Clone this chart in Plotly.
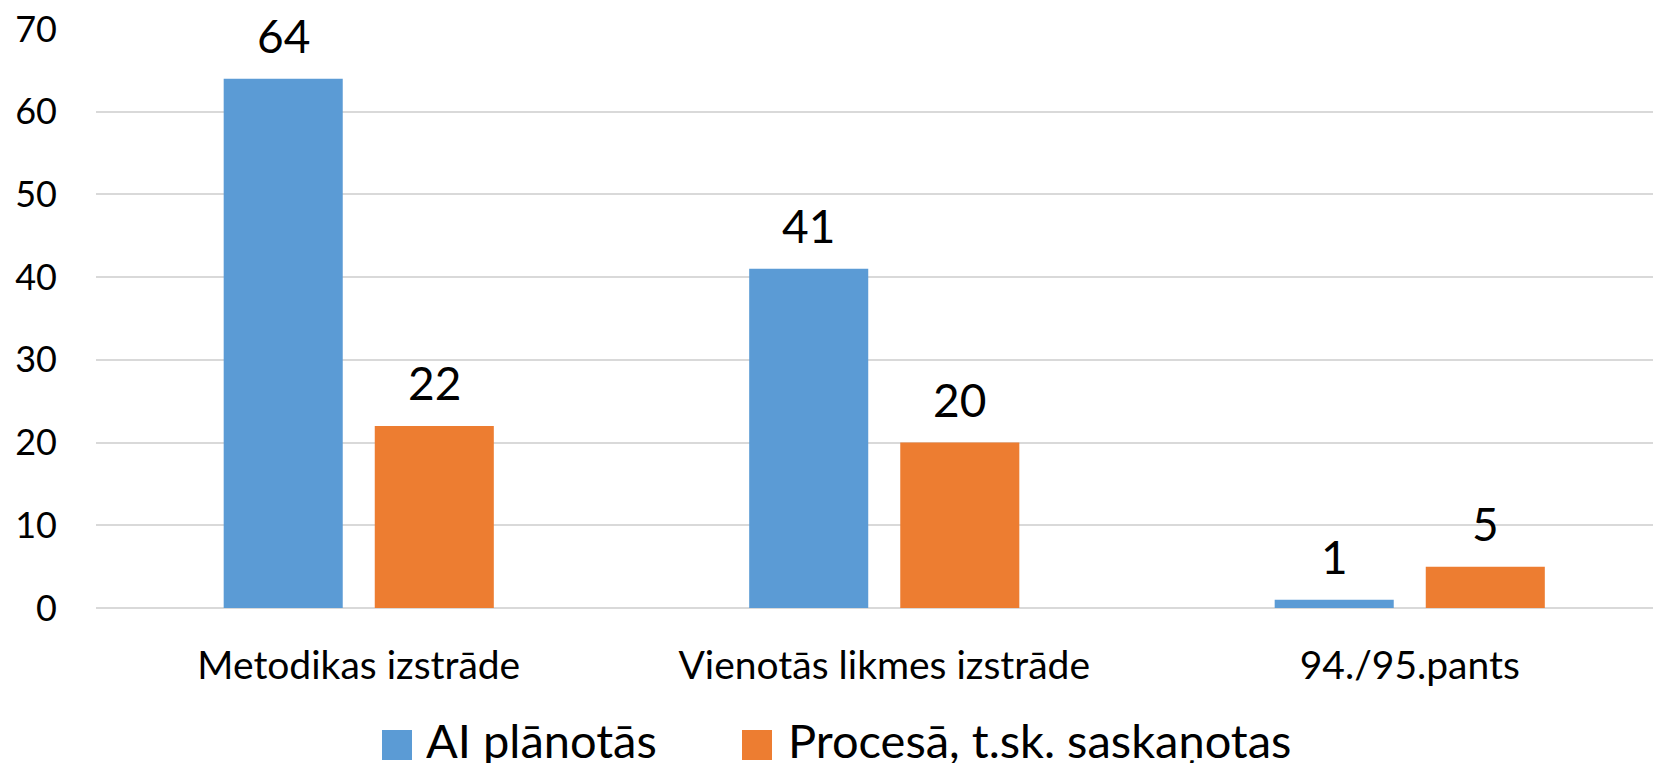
import plotly.graph_objects as go

categories = ["Metodikas izstrāde", "Vienotās likmes izstrāde", "94./95.pants"]
series_names = ["AI plānotās", "Procesā, t.sk. saskaņotas"]
ai_planotas = [64, 41, 1]
procesa = [22, 20, 5]
y_ticks = [0, 10, 20, 30, 40, 50, 60, 70]

colors = ["#5B9BD5", "#ED7D31"]
FONT = "Lato"

W, H = 1653, 770
ML, MR, MT, MB = 96, 0, 29, 162
BARGAP = 0.425
BARGROUPGAP = 0.212

fig = go.Figure()
for name, vals, col in zip(series_names, [ai_planotas, procesa], colors):
    fig.add_trace(go.Bar(x=list(range(len(categories))), y=vals, name=name,
                         marker=dict(color=col, line=dict(width=0)),
                         hoverinfo="skip"))

# data labels as annotations above each bar
slot = (1 - BARGAP) / 2
annotations = []
for si, vals in enumerate([ai_planotas, procesa]):
    off = (si - 0.5) * slot
    for i, v in enumerate(vals):
        annotations.append(dict(x=i + off, y=v, xref="x", yref="y", text=str(v),
                                showarrow=False, yanchor="bottom", yshift=14,
                                font=dict(family=FONT, size=46, color="black")))

# manual legend (pixel -> paper conversion)
pw = W - ML - MR
ph = H - MT - MB
def px(xp):
    return (xp - ML) / pw
def py(yp):
    return (H - MB - yp) / ph

shapes = []
legend_items = [(382, 425), (742, 787)]
for (sq_x, tx), name, col in zip(legend_items, series_names, colors):
    shapes.append(dict(type="rect", xref="paper", yref="paper",
                       x0=px(sq_x), x1=px(sq_x + 30), y0=py(760), y1=py(730),
                       fillcolor=col, line=dict(width=0)))
    annotations.append(dict(x=px(tx), y=py(740), xref="paper", yref="paper",
                            text=name, showarrow=False, xanchor="left", yanchor="middle",
                            height=46, borderpad=0,
                            font=dict(family=FONT, size=47, color="black")))

fig.update_layout(
    width=W, height=H,
    margin=dict(l=ML, r=MR, t=MT, b=MB, pad=0),
    paper_bgcolor="white", plot_bgcolor="white",
    barmode="group", bargap=BARGAP, bargroupgap=BARGROUPGAP,
    showlegend=False,
    font=dict(family=FONT, color="black"),
    xaxis=dict(range=[-0.5, (W - ML - MR) / 525.5 - 0.5],
               tickmode="array", tickvals=list(range(len(categories))), ticktext=categories,
               tickfont=dict(family=FONT, size=39, color="black"),
               showgrid=False, zeroline=False, showline=False, ticks="",
               ticklabelstandoff=31),
    yaxis=dict(range=[0, 70], tickmode="array", tickvals=y_ticks,
               tickfont=dict(family=FONT, size=36, color="black"),
               showgrid=True, gridcolor="#d9d9d9", gridwidth=1.5,
               zeroline=True, zerolinecolor="#d9d9d9", zerolinewidth=2,
               showline=False, ticks="", ticklabelstandoff=38),
    annotations=annotations, shapes=shapes,
)

fig.write_html("out.html", config={"displayModeBar": False},
               post_script="document.body.style.margin='0';document.body.style.overflow='hidden';")
